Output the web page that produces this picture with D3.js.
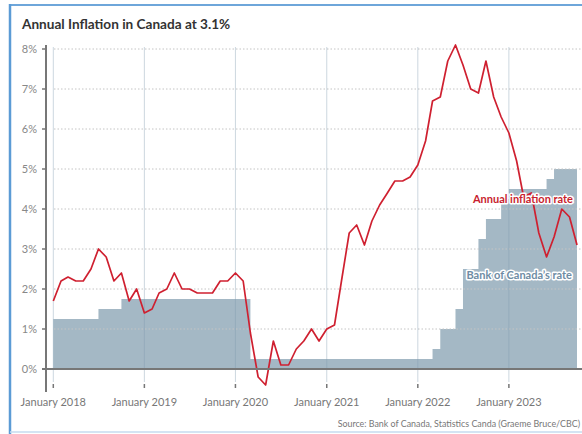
<!DOCTYPE html>
<html>
<head>
<meta charset="utf-8">
<script src="https://cdn.jsdelivr.net/npm/d3@7"></script>
<style>
  body { margin: 0; background: #fff; }
  svg { display: block; font-family: Lato, "Open Sans", sans-serif; }
</style>
</head>
<body>
<svg id="vis" width="582" height="434"></svg>
<script>
// Monthly data, January 2018 .. October 2023
var inflation = [
  1.7, 2.2, 2.3, 2.2, 2.2, 2.5, 3.0, 2.8, 2.2, 2.4, 1.7, 2.0,   // 2018
  1.4, 1.5, 1.9, 2.0, 2.4, 2.0, 2.0, 1.9, 1.9, 1.9, 2.2, 2.2,   // 2019
  2.4, 2.2, 0.9, -0.2, -0.4, 0.7, 0.1, 0.1, 0.5, 0.7, 1.0, 0.7, // 2020
  1.0, 1.1, 2.2, 3.4, 3.6, 3.1, 3.7, 4.1, 4.4, 4.7, 4.7, 4.8,   // 2021
  5.1, 5.7, 6.7, 6.8, 7.7, 8.1, 7.6, 7.0, 6.9, 7.7, 6.8, 6.3,   // 2022
  5.9, 5.2, 4.3, 4.4, 3.4, 2.8, 3.3, 4.0, 3.8, 3.1              // 2023
];
var bankRate = [
  1.25, 1.25, 1.25, 1.25, 1.25, 1.25, 1.5, 1.5, 1.5, 1.75, 1.75, 1.75,
  1.75, 1.75, 1.75, 1.75, 1.75, 1.75, 1.75, 1.75, 1.75, 1.75, 1.75, 1.75,
  1.75, 1.75, 0.25, 0.25, 0.25, 0.25, 0.25, 0.25, 0.25, 0.25, 0.25, 0.25,
  0.25, 0.25, 0.25, 0.25, 0.25, 0.25, 0.25, 0.25, 0.25, 0.25, 0.25, 0.25,
  0.25, 0.25, 0.5, 1.0, 1.0, 1.5, 2.5, 2.5, 3.25, 3.75, 3.75, 4.25,
  4.5, 4.5, 4.5, 4.5, 4.5, 4.75, 5.0, 5.0, 5.0, 5.0
];
var yTicks = [0, 1, 2, 3, 4, 5, 6, 7, 8];
var xTickYears = [2018, 2019, 2020, 2021, 2022, 2023];
var title = 'Annual Inflation in Canada at 3.1%';
var source = 'Source: Bank of Canada, Statistics Canda (Graeme Bruce/CBC)';

var rows = inflation.map(function(v, i) {
  return { date: new Date(2018, i, 1), cpi: v, rate: bankRate[i] };
});

var svg = d3.select('#vis');

// frame lines
svg.append('line').attr('x1', 10).attr('x2', 582).attr('y1', 5).attr('y2', 5)
  .attr('stroke', '#6ea6da').attr('stroke-width', 2);
svg.append('line').attr('x1', 10).attr('x2', 10).attr('y1', 4).attr('y2', 434)
  .attr('stroke', '#5b9bd5').attr('stroke-width', 2.5);
svg.append('line').attr('x1', 10).attr('x2', 582).attr('y1', 432).attr('y2', 432)
  .attr('stroke', '#c6dbef').attr('stroke-width', 1.5);

svg.append('text').attr('x', 22).attr('y', 29)
  .attr('font-size', 13.6).attr('font-weight', 700).attr('fill', '#333')
  .text(title);

// scales
var x = d3.scaleTime()
  .domain([rows[0].date, rows[rows.length - 1].date])
  .range([53.3, 577]);
var y = d3.scaleLinear().domain([0, 8]).range([369, 49]);

// bank rate area
var area = d3.area().curve(d3.curveStepAfter)
  .x(function(d) { return x(d.date) })
  .y0(y(0))
  .y1(function(d) { return y(d.rate) });
svg.append('path').datum(rows).attr('d', area).attr('fill', '#a4b8c5');

// horizontal dotted grid
svg.append('g').selectAll('line').data(yTicks.slice(1)).join('line')
  .attr('x1', 54).attr('x2', 582)
  .attr('y1', function(d) { return y(d) }).attr('y2', function(d) { return y(d) })
  .attr('stroke', '#c4c4c4').attr('stroke-width', 1).attr('stroke-dasharray', '1.5,2');

// vertical grid at each January
var janDates = xTickYears.map(function(yr) { return new Date(yr, 0, 1) });
svg.append('g').selectAll('line').data(janDates).join('line')
  .attr('x1', function(d) { return x(d) }).attr('x2', function(d) { return x(d) })
  .attr('y1', 47).attr('y2', 382)
  .attr('stroke', '#7f9bb0').attr('stroke-opacity', 0.4).attr('stroke-width', 1);

// inflation line
var line = d3.line()
  .x(function(d) { return x(d.date) })
  .y(function(d) { return y(d.cpi) });
svg.append('path').datum(rows).attr('d', line)
  .attr('fill', 'none').attr('stroke', '#cf2030').attr('stroke-width', 1.7)
  .attr('stroke-linejoin', 'round');

// y axis
svg.append('line').attr('x1', 46).attr('x2', 46).attr('y1', 45).attr('y2', 392)
  .attr('stroke', '#777').attr('stroke-width', 2);
var yAxis = svg.append('g');
yAxis.selectAll('line').data(yTicks).join('line')
  .attr('x1', 42).attr('x2', 46)
  .attr('y1', function(d) { return y(d) }).attr('y2', function(d) { return y(d) })
  .attr('stroke', '#777').attr('stroke-width', 1.5);
yAxis.selectAll('text').data(yTicks).join('text')
  .attr('x', 37).attr('y', function(d) { return y(d) }).attr('dy', '0.35em')
  .attr('text-anchor', 'end').attr('font-size', 11).attr('fill', '#888')
  .text(function(d) { return d + '%' });

// zero baseline
svg.append('line').attr('x1', 42).attr('x2', 582).attr('y1', y(0)).attr('y2', y(0))
  .attr('stroke', '#777').attr('stroke-width', 2);

// x ticks and labels
var xAxis = svg.append('g');
xAxis.selectAll('line').data(janDates).join('line')
  .attr('x1', function(d) { return x(d) }).attr('x2', function(d) { return x(d) })
  .attr('y1', 384).attr('y2', 388)
  .attr('stroke', '#777').attr('stroke-width', 1.5);
xAxis.selectAll('text').data(janDates).join('text')
  .attr('x', function(d) { return x(d) }).attr('y', 406)
  .attr('text-anchor', 'middle').attr('font-size', 11).attr('fill', '#777')
  .text(d3.timeFormat('January %Y'));

// series labels with white halo
function halo(sel) {
  sel.attr('stroke', '#fff').attr('stroke-width', 3).attr('stroke-linejoin', 'round')
    .attr('paint-order', 'stroke').attr('font-weight', 700).attr('font-size', 11)
    .attr('text-anchor', 'end');
}
svg.append('text').attr('x', 573).attr('y', 202.5).call(halo)
  .attr('fill', '#c81e2e').text('Annual inflation rate');
svg.append('text').attr('x', 572).attr('y', 279).call(halo)
  .attr('fill', '#6e8ca4').text('Bank of Canada\u2019s rate');

svg.append('text').attr('x', 580).attr('y', 427)
  .attr('text-anchor', 'end').attr('font-size', 8.9).attr('fill', '#777')
  .text(source);
</script>
</body>
</html>
